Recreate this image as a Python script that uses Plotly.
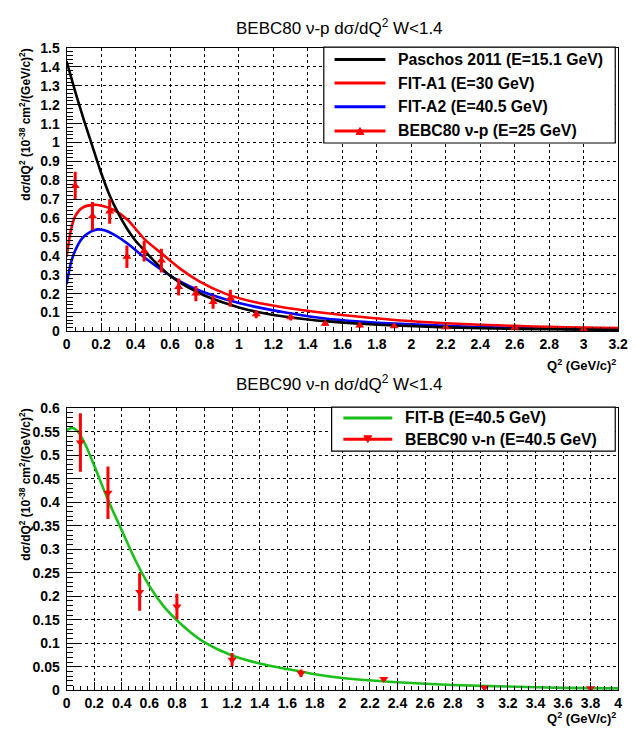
import plotly.graph_objects as go

W, H = 636, 741

# ---------------- upper panel: BEBC80 nu-p ----------------
paschos_q2 = [0, 0.05, 0.1, 0.15, 0.2, 0.25, 0.3, 0.35, 0.4, 0.45, 0.5, 0.55, 0.6,
              0.7, 0.8, 0.9, 1.0, 1.1, 1.2, 1.3, 1.4, 1.5, 1.7, 1.9, 2.2, 2.6, 3.0, 3.2]
paschos_val = [1.43, 1.27, 1.12, 0.98, 0.84, 0.72, 0.625, 0.545, 0.48, 0.43, 0.38, 0.335, 0.295,
               0.235, 0.19, 0.155, 0.127, 0.104, 0.087, 0.074, 0.063, 0.054, 0.04, 0.031,
               0.021, 0.013, 0.009, 0.007]

fita1_q2 = [0, 0.025, 0.05, 0.09, 0.15, 0.21, 0.28, 0.355, 0.45, 0.545, 0.66, 0.77, 0.92,
            1.09, 1.27, 1.5, 1.7, 1.9, 2.1, 2.3, 2.5, 2.7, 2.9, 3.2]
fita1_val = [0.395, 0.536, 0.61, 0.654, 0.67, 0.664, 0.64, 0.59, 0.49, 0.417, 0.331, 0.265,
             0.2, 0.155, 0.125, 0.097, 0.077, 0.06, 0.048, 0.039, 0.032, 0.026, 0.022, 0.017]

fita2_q2 = [0, 0.025, 0.05, 0.09, 0.14, 0.18, 0.22, 0.28, 0.355, 0.45, 0.545, 0.66, 0.77,
            0.92, 1.09, 1.27, 1.5, 1.7, 1.9, 2.3, 2.6, 3.0, 3.2]
fita2_val = [0.25, 0.363, 0.428, 0.492, 0.528, 0.54, 0.535, 0.51, 0.464, 0.392, 0.329, 0.263,
             0.216, 0.17, 0.131, 0.1, 0.068, 0.052, 0.041, 0.026, 0.018, 0.012, 0.01]

bebc80_q2 = [0.05, 0.15, 0.25, 0.35, 0.45, 0.55, 0.65, 0.75, 0.85, 0.95, 1.1, 1.3,
             1.5, 1.7, 1.9, 2.2, 2.6, 3.0]
bebc80_val = [0.77, 0.61, 0.635, 0.395, 0.425, 0.375, 0.235, 0.2, 0.155, 0.175, 0.09, 0.075,
              0.04, 0.031, 0.027, 0.022, 0.019, 0.011]
bebc80_err = [0.075, 0.075, 0.065, 0.06, 0.055, 0.063, 0.045, 0.04, 0.035, 0.045, 0.02, 0.017,
              0.012, 0.01, 0.009, 0.008, 0.007, 0.006]

# ---------------- lower panel: BEBC90 nu-n ----------------
fitb_q2 = [0, 0.04, 0.08, 0.14, 0.2, 0.3, 0.4, 0.5, 0.6, 0.7, 0.8, 0.9, 1.0, 1.2, 1.4,
           1.6, 1.8, 2.0, 2.4, 2.8, 3.2, 3.6, 4.0]
fitb_val = [0.553, 0.558, 0.551, 0.52, 0.478, 0.405, 0.34, 0.276, 0.222, 0.18, 0.149, 0.123,
            0.102, 0.074, 0.057, 0.045, 0.034, 0.026, 0.017, 0.011, 0.008, 0.005, 0.004]

bebc90_q2 = [0.1, 0.3, 0.53, 0.8, 1.2, 1.7, 2.3, 3.03, 3.8]
bebc90_val = [0.527, 0.42, 0.209, 0.178, 0.065, 0.036, 0.024, 0.006, 0.004]
bebc90_err = [0.062, 0.056, 0.04, 0.027, 0.014, 0.008, 0.003, 0.002, 0.002]

legend_top = ["Paschos 2011 (E=15.1 GeV)", "FIT-A1 (E=30 GeV)",
              "FIT-A2 (E=40.5 GeV)", "BEBC80 \u03bd-p (E=25 GeV)"]
legend_bot = ["FIT-B (E=40.5 GeV)", "BEBC90 \u03bd-n (E=40.5 GeV)"]

RED, BLUE, BLACK, GREEN = "#ff0000", "#0000ff", "#000000", "#19c019"
FONT = "Liberation Sans"


def pxx(x):
    return x / W


def pxy(y):
    return 1 - y / H


fig = go.Figure()

curve = dict(mode="lines", showlegend=False, hoverinfo="skip")
fig.add_trace(go.Scatter(x=fita2_q2, y=fita2_val, line=dict(color=BLUE, width=2.6, shape="spline", smoothing=0.7),
                         xaxis="x", yaxis="y", **curve))
fig.add_trace(go.Scatter(x=fita1_q2, y=fita1_val, line=dict(color=RED, width=2.6, shape="spline", smoothing=0.7),
                         xaxis="x", yaxis="y", **curve))
fig.add_trace(go.Scatter(x=paschos_q2, y=paschos_val, line=dict(color=BLACK, width=2.6, shape="spline", smoothing=0.7),
                         xaxis="x", yaxis="y", **curve))
fig.add_trace(go.Scatter(x=bebc80_q2, y=bebc80_val, mode="markers", showlegend=False,
                         marker=dict(symbol="triangle-up", size=8, color=RED),
                         error_y=dict(type="data", array=bebc80_err, color=RED, thickness=3, width=0),
                         xaxis="x", yaxis="y"))

fig.add_trace(go.Scatter(x=fitb_q2, y=fitb_val, line=dict(color=GREEN, width=2.6, shape="spline", smoothing=0.7),
                         xaxis="x2", yaxis="y2", **curve))
fig.add_trace(go.Scatter(x=bebc90_q2, y=bebc90_val, mode="markers", showlegend=False,
                         marker=dict(symbol="triangle-down", size=8, color=RED),
                         error_y=dict(type="data", array=bebc90_err, color=RED, thickness=3, width=0),
                         xaxis="x2", yaxis="y2"))

tickfont = dict(family=FONT, size=14, color="black", weight="bold")
common = dict(showline=True, linecolor="black", linewidth=1, mirror=True,
              ticks="inside", tickcolor="black", tickwidth=1,
              showgrid=True, gridcolor="black", griddash="dot", gridwidth=1,
              zeroline=False, tickfont=tickfont, fixedrange=True)

xdom = [pxx(64), pxx(628)]
fig.update_layout(
    width=W, height=H, margin=dict(l=0, r=0, t=0, b=0),
    paper_bgcolor="white", plot_bgcolor="white", showlegend=False,
    xaxis=dict(domain=xdom, anchor="y", range=[0, 3.2], dtick=0.2, tick0=0, ticklen=8,
               minor=dict(dtick=0.05, ticklen=4, ticks="inside", tickcolor="black", showgrid=False),
               **common),
    yaxis=dict(domain=[pxy(330.5), pxy(41)], anchor="x", range=[0, 1.5], dtick=0.1, tick0=0, ticklen=12,
               ticklabelstandoff=3,
               minor=dict(dtick=0.02, ticklen=6, ticks="inside", tickcolor="black", showgrid=False),
               **common),
    xaxis2=dict(domain=xdom, anchor="y2", range=[0, 4], dtick=0.2, tick0=0, ticklen=8,
                minor=dict(dtick=0.05, ticklen=4, ticks="inside", tickcolor="black", showgrid=False),
                **common),
    yaxis2=dict(domain=[pxy(697.3), pxy(409)], anchor="x2", range=[0, 0.6], dtick=0.05, tick0=0, ticklen=12,
                ticklabelstandoff=3,
                minor=dict(dtick=0.01, ticklen=6, ticks="inside", tickcolor="black", showgrid=False),
                **common),
)

ann = []
title_font = dict(family=FONT, size=17, color="black")
ann.append(dict(text="BEBC80 \u03bd-p d\u03c3/dQ<sup>2</sup> W&lt;1.4", x=pxx(343), y=pxy(19),
                xref="paper", yref="paper", showarrow=False, font=title_font,
                xanchor="center", yanchor="middle"))
ann.append(dict(text="BEBC90 \u03bd-n d\u03c3/dQ<sup>2</sup> W&lt;1.4", x=pxx(343), y=pxy(383),
                xref="paper", yref="paper", showarrow=False, font=title_font,
                xanchor="center", yanchor="middle"))

ytitle_font = dict(family=FONT, size=12, color="black", weight="bold")
xtitle_font = dict(family=FONT, size=13, color="black", weight="bold")
ytitle = "d\u03c3/dQ<sup>2</sup> (10<sup>-38</sup> cm<sup>2</sup>/(GeV/c)<sup>2</sup>)"
xtitle = "Q<sup>2</sup> (GeV/c)<sup>2</sup>"
for ytop in (40, 408):
    ann.append(dict(text=ytitle, x=pxx(22), y=pxy(ytop), xref="paper", yref="paper",
                    showarrow=False, textangle=-90, font=ytitle_font,
                    xanchor="center", yanchor="top"))
for ymid in (365, 726):
    ann.append(dict(text=xtitle, x=pxx(628), y=pxy(ymid), xref="paper", yref="paper",
                    showarrow=False, font=xtitle_font, xanchor="right", yanchor="middle"))

# legend boxes drawn as paper-space shapes with text labels
shapes = []
leg_font = dict(family=FONT, size=15.8, color="black", weight="bold")


def legend_box(x0, x1, y0, y1):
    shapes.append(dict(type="rect", xref="paper", yref="paper", x0=pxx(x0), x1=pxx(x1),
                       y0=pxy(y1), y1=pxy(y0), fillcolor="white",
                       line=dict(color="black", width=1.2), layer="above"))


def legend_entry(label, color, lx0, lx1, ty, tx, marker=None):
    shapes.append(dict(type="line", xref="paper", yref="paper", x0=pxx(lx0), x1=pxx(lx1),
                       y0=pxy(ty), y1=pxy(ty), line=dict(color=color, width=3), layer="above"))
    if marker:
        cx = (lx0 + lx1) / 2
        if marker == "up":
            pts = [(cx - 4, ty + 3.5), (cx + 4, ty + 3.5), (cx, ty - 3.5)]
        else:
            pts = [(cx - 4, ty - 3.5), (cx + 4, ty - 3.5), (cx, ty + 3.5)]
        path = "M " + " L ".join(f"{pxx(a):.5f},{pxy(b):.5f}" for a, b in pts) + " Z"
        shapes.append(dict(type="path", xref="paper", yref="paper", path=path,
                           fillcolor=color, line=dict(color=color, width=1), layer="above"))
    ann.append(dict(text=label, x=pxx(tx), y=pxy(ty), xref="paper", yref="paper",
                    showarrow=False, font=leg_font, xanchor="left", yanchor="middle"))


legend_box(327, 625, 40, 138)
top_colors = [BLACK, RED, BLUE, RED]
top_rows = [52.7, 76.7, 101, 125.7]
for i, (lab, col, ty) in enumerate(zip(legend_top, top_colors, top_rows)):
    legend_entry(lab, col, 338, 390, ty, 401, marker="up" if i == 3 else None)

legend_box(335, 625, 408, 453)
bot_colors = [GREEN, RED]
bot_rows = [419, 440.7]
for i, (lab, col, ty) in enumerate(zip(legend_bot, bot_colors, bot_rows)):
    legend_entry(lab, col, 347, 397, ty, 408, marker="down" if i == 1 else None)

fig.update_layout(annotations=ann, shapes=shapes)

fig.write_html("out.html", config={"displayModeBar": False})
